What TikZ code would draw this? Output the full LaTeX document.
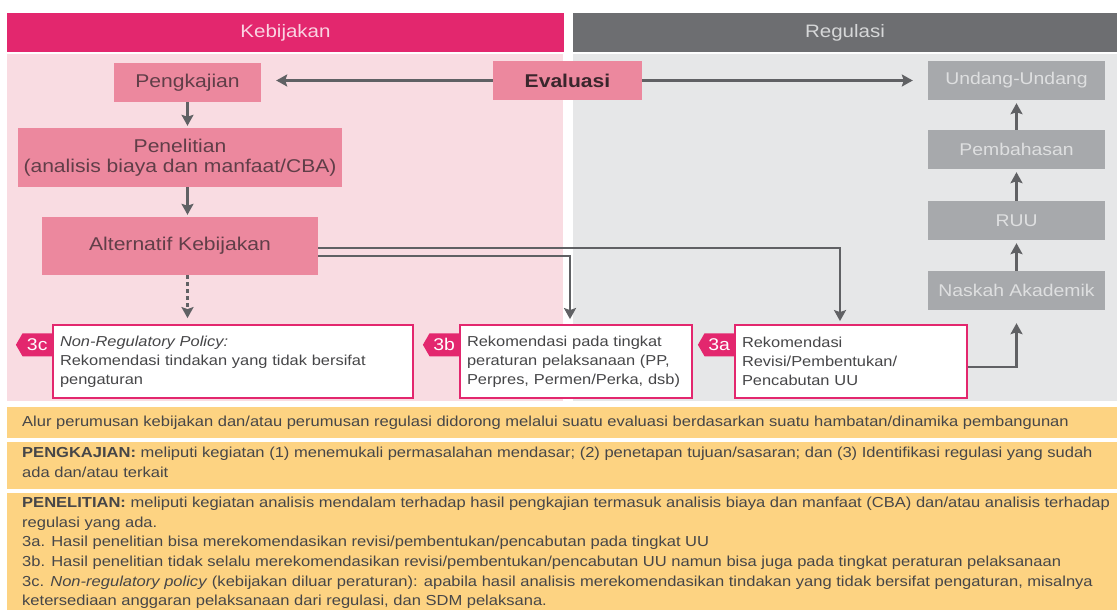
\documentclass[tikz,border=0pt]{standalone}
\usepackage{fontspec}
\setmainfont[FakeStretch=1.14]{Liberation Sans}
\usetikzlibrary{shapes,arrows.meta,positioning}
\definecolor{kpink}{RGB}{227,39,110}
\definecolor{kgray}{RGB}{109,110,113}
\definecolor{lpink}{RGB}{249,220,226}
\definecolor{lgray}{RGB}{230,231,232}
\definecolor{npink}{RGB}{236,136,158}
\definecolor{ngray}{RGB}{167,169,172}
\definecolor{ntext}{RGB}{96,62,72}
\definecolor{etext}{RGB}{58,38,44}
\definecolor{gtext}{RGB}{222,223,224}
\definecolor{arr}{RGB}{96,97,100}
\definecolor{band}{RGB}{253,211,130}
\definecolor{btext}{RGB}{70,70,72}

\begin{document}
\begin{tikzpicture}[x=1pt,y=-1pt,
  header/.style={rectangle,inner sep=0,minimum height=39,font=\fontsize{18}{20}\selectfont},
  pinkbox/.style={rectangle,fill=npink,text=ntext,inner sep=0,align=center,font=\fontsize{18.5}{20}\selectfont},
  graybox/.style={rectangle,fill=ngray,text=gtext,inner sep=0,minimum width=177,minimum height=39,font=\fontsize{17}{20}\selectfont},
  recbox/.style={rectangle,draw=kpink,line width=1.8,fill=white,text=btext,inner xsep=7,inner ysep=0,minimum height=73,align=left,font=\fontsize{14.4}{19}\selectfont},
  tagbox/.style={signal,signal to=west,signal pointer angle=120,fill=kpink,text=white,inner sep=0,minimum width=36,minimum height=23,anchor=north east,font=\fontsize{17}{18}\selectfont},
  note/.style={anchor=west,inner sep=0,text=btext,align=left,font=\fontsize{14.5}{19.6}\selectfont},
  flow/.style={draw=arr,line width=2.8,-{Stealth[length=11pt,width=12pt,inset=2pt]}}]

\useasboundingbox (0,0) rectangle (1117,610);
\fill[white] (0,0) rectangle (1117,610);

\fill[lpink] (7,54.5) rectangle (563,401);
\fill[lgray] (573,54.5) rectangle (1117,401);
\node [header,fill=kpink,text={rgb,255:red,250;green,212;blue,226},minimum width=557] (keb) at (285.5,32.5) {Kebijakan};
\node [header,fill=kgray,text={rgb,255:red,214;green,215;blue,216},minimum width=544] (reg) at (845,32.5) {Regulasi};

\node [pinkbox,minimum width=147,minimum height=39] (kaji) at (187.5,82.5) {Pengkajian};
\node [pinkbox,minimum width=149,minimum height=39,text=etext,font=\fontsize{18.5}{20}\selectfont\bfseries] (eval) at (567.5,80.5) {Evaluasi};
\node [pinkbox,minimum width=324,minimum height=59] (teliti) at (180,157.5) {Penelitian\\(analisis biaya dan manfaat/CBA)};
\node [pinkbox,minimum width=276,minimum height=58] (alt) at (180,246) {Alternatif Kebijakan};

\node [graybox] (uu) at (1016.5,80.5) {Undang-Undang};
\node [graybox] (bahas) at (1016.5,149.5) {Pembahasan};
\node [graybox] (ruu) at (1016.5,220.5) {RUU};
\node [graybox] (naskah) at (1016.5,290.5) {Naskah Akademik};

\node [recbox,minimum width=360,text width=346] (r3c) at (233,361.5) {\textit{Non-Regulatory Policy:}\\Rekomendasi tindakan yang tidak bersifat\\pengaturan};
\node [recbox,minimum width=232,text width=218] (r3b) at (576,361.5) {Rekomendasi pada tingkat\\peraturan pelaksanaan (PP,\\Perpres, Permen/Perka, dsb)};
\node [recbox,minimum width=232,text width=218] (r3a) at (851,361.5) {Rekomendasi\\Revisi/Pembentukan/\\Pencabutan UU};
\node [tagbox] (t3c) at ([yshift=-9pt]r3c.north west) {3c};
\node [tagbox] (t3b) at ([yshift=-9pt]r3b.north west) {3b};
\node [tagbox] (t3a) at ([yshift=-9pt]r3a.north west) {3a};

\draw [flow,shorten >=15pt] (eval.west) -- (eval.west -| kaji.east);
\draw [flow,shorten >=15pt] (eval.east) -- (uu.west);
\draw [flow,shorten >=2pt] (kaji.south) -- (kaji.south |- teliti.north);
\draw [flow,shorten >=2pt] (kaji.south |- teliti.south) -- (kaji.south |- alt.north);
\draw [flow,dash pattern=on 3.5pt off 3.5pt,shorten >=6pt] (kaji.south |- alt.south) -- (kaji.south |- r3c.north);
\draw [flow,line width=2.3] ([yshift=-10pt]alt.east) -| ([xshift=-6pt,yshift=5pt]r3b.north);
\draw [flow,line width=2.3] ([yshift=-2pt]alt.east) -| ([xshift=-11pt,yshift=3pt]r3a.north);
\draw [flow,shorten >=13pt] ([yshift=-5.5pt]r3a.east) -| (naskah.south);
\draw [flow,shorten >=3pt] (naskah.north) -- (ruu.south);
\draw [flow,shorten >=3pt] (ruu.north) -- (bahas.south);
\draw [flow,shorten >=3pt] (bahas.north) -- (uu.south);

\fill[band] (7,407) rectangle (1117,438);
\fill[band] (7,442) rectangle (1117,489);
\fill[band] (7,493) rectangle (1117,610);
\node [note] (n1) at (22,422.5) {Alur perumusan kebijakan dan/atau perumusan regulasi didorong melalui suatu evaluasi berdasarkan suatu hambatan/dinamika pembangunan};
\node [note] (n2) at (22,462.5) {\textbf{PENGKAJIAN:} meliputi kegiatan (1) menemukali permasalahan mendasar; (2) penetapan tujuan/sasaran; dan (3) Identifikasi regulasi yang sudah\\ada dan/atau terkait};
\node [note] (n3) at (22,553) {\textbf{PENELITIAN:} meliputi kegiatan analisis mendalam terhadap hasil pengkajian termasuk analisis biaya dan manfaat (CBA) dan/atau analisis terhadap\\regulasi yang ada.\\3a. Hasil penelitian bisa merekomendasikan revisi/pembentukan/pencabutan pada tingkat UU\\3b. Hasil penelitian tidak selalu merekomendasikan revisi/pembentukan/pencabutan UU namun bisa juga pada tingkat peraturan pelaksanaan\\3c. \textit{Non-regulatory policy} (kebijakan diluar peraturan): apabila hasil analisis merekomendasikan tindakan yang tidak bersifat pengaturan, misalnya\\ketersediaan anggaran pelaksanaan dari regulasi, dan SDM pelaksana.};
\end{tikzpicture}
\end{document}
